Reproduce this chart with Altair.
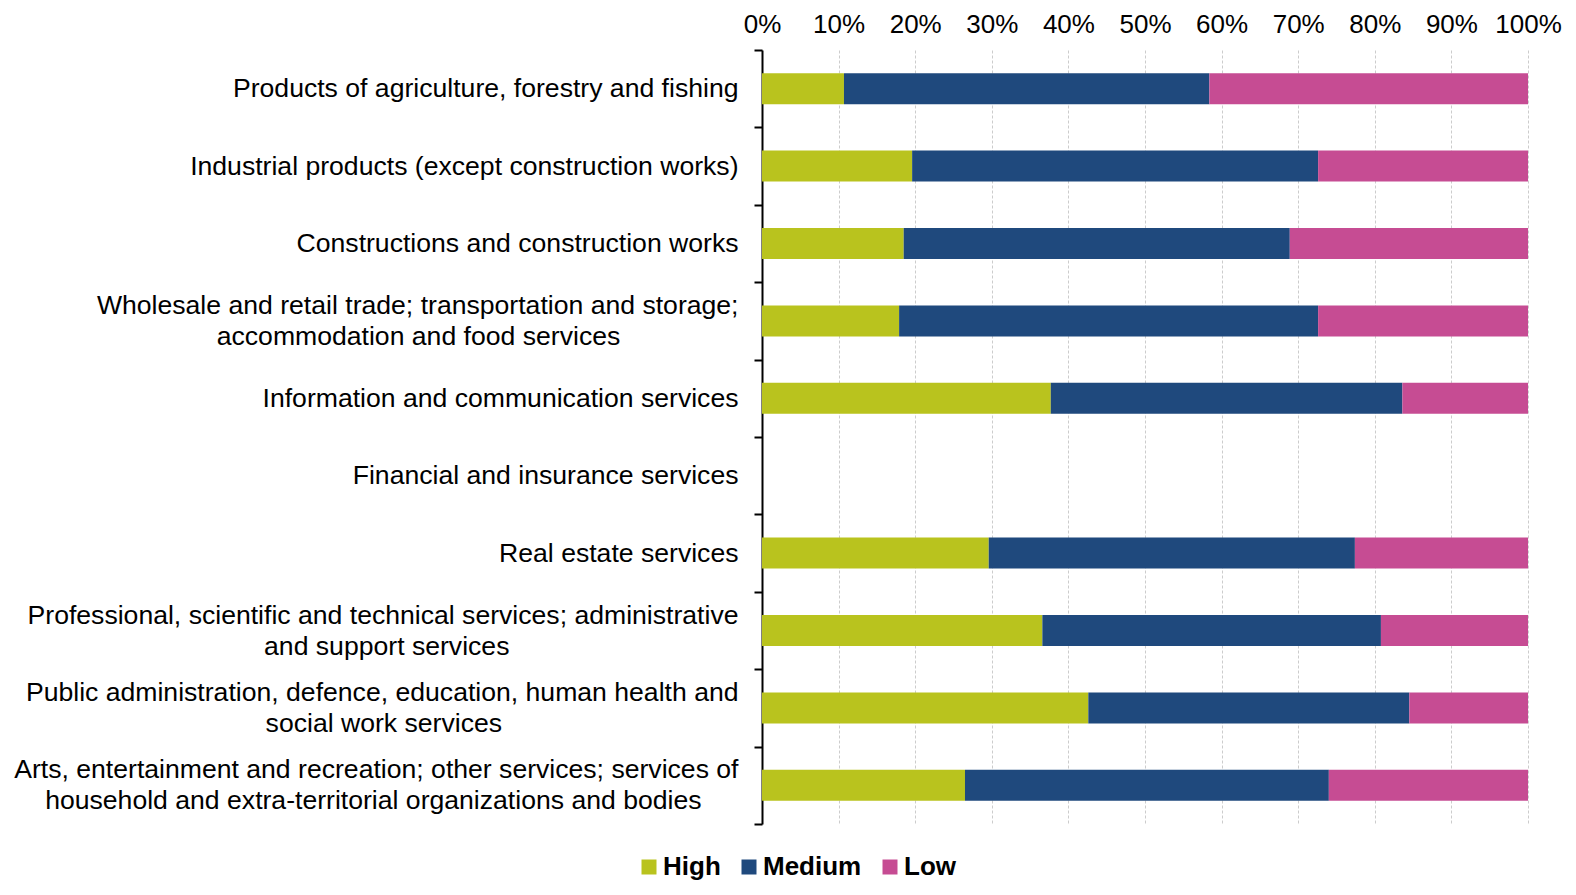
import altair as alt
import pandas as pd

categories = [
    "Products of agriculture, forestry and fishing",
    "Industrial products (except construction works)",
    "Constructions and construction works",
    "Wholesale and retail trade; transportation and storage;|accommodation and food services",
    "Information and communication services",
    "Financial and insurance services",
    "Real estate services",
    "Professional, scientific and technical services; administrative|and support services",
    "Public administration, defence, education, human health and|social work services",
    "Arts, entertainment and recreation; other services; services of|household and extra-territorial organizations and bodies",
]
levels = ["High", "Medium", "Low"]
colors = ["#B9C31E", "#1F497D", "#C64C93"]

high = [10.7, 19.6, 18.5, 17.9, 37.7, None, 29.6, 36.6, 42.6, 26.5]
medium = [47.7, 53.0, 50.4, 54.7, 45.9, None, 47.8, 44.2, 41.9, 47.5]
low = [41.6, 27.4, 31.1, 27.4, 16.4, None, 22.6, 19.2, 15.5, 26.0]

rows = []
for i, c in enumerate(categories):
    for j, (lev, vals) in enumerate(zip(levels, [high, medium, low])):
        if vals[i] is not None:
            rows.append({"category": c, "level": lev, "order": j, "value": vals[i] / 100})
df = pd.DataFrame(rows)

FONT = "Liberation Sans"
NB = "\u00a0"   # no-break space
ZW = "\u200b"   # zero-width space (keeps an otherwise empty line / trailing space from being trimmed)

# style: trailing no-break spaces so each 2nd line sits centred under its 1st line
second_line_indent = {3: 16, 7: 31, 8: 32, 9: 5}
parts = []
for k, n in second_line_indent.items():
    l1, l2 = categories[k].split("|")
    key = l2[:12]
    parts.append(
        f"indexof(datum.label, {repr(key)}) >= 0 ? [{repr(l1)}, {repr(ZW)}, {repr(l2 + NB * n + ZW)}]"
    )
label_expr = " : ".join(parts) + f" : [{repr(ZW)}, datum.label]"

chart = alt.Chart(df).mark_bar(size=31).encode(
    x=alt.X("value:Q", stack="zero",
            scale=alt.Scale(domain=[0, 1], nice=False),
            axis=alt.Axis(orient="top", format="%", values=[i / 10 for i in range(11)],
                          title=None, ticks=False, domain=False, labelFontSize=26,
                          labelFont=FONT, labelColor="#000", labelPadding=13,
                          gridDash=[3, 2], gridColor="#cccccc", gridWidth=1,
                          labelFlush=False)),
    y=alt.Y("category:N", sort=categories,
            scale=alt.Scale(domain=categories, paddingInner=0, paddingOuter=0),
            axis=alt.Axis(title=None, labelFontSize=26.6, labelFont=FONT, labelColor="#000",
                          labelExpr=label_expr,
                          labelOffset=-15.5, labelPadding=16,
                          labelLineHeight=15.5, labelLimit=900,
                          tickBand="extent", tickSize=8, tickColor="#000", tickWidth=2,
                          domainColor="#000", domainWidth=2, grid=False)),
    color=alt.Color("level:N", scale=alt.Scale(domain=levels, range=colors),
                    legend=alt.Legend(title=None, orient="none", direction="horizontal",
                                      legendX=-126, legendY=804,
                                      symbolType="square", symbolSize=225, symbolStrokeWidth=0,
                                      labelFontSize=26, labelFontWeight="bold", labelFont=FONT,
                                      labelColor="#000", columnPadding=15, labelOffset=1,
                                      symbolOpacity=1)),
    order=alt.Order("order:Q"),
).properties(
    width=766, height=774,
    padding={"top": 3, "bottom": 0, "left": 5, "right": 5},
).configure_view(stroke=None)

chart.save("out.html", embed_options={"renderer": "svg", "actions": False})
